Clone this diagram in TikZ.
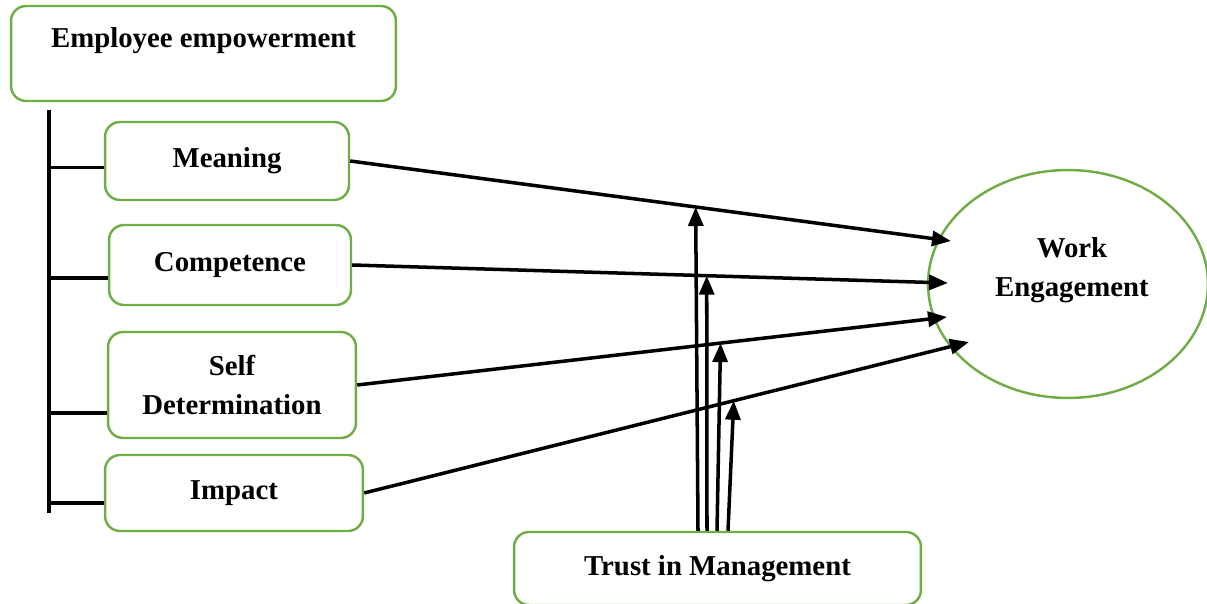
\documentclass[tikz,border=0pt]{standalone}
\usepackage{fontspec}
\setmainfont{Liberation Serif}
\usepackage{xcolor}
\usetikzlibrary{arrows.meta,calc,shapes.geometric}

\definecolor{boxgreen}{RGB}{112,173,71}

\begin{document}
\begin{tikzpicture}[x=0.02cm, y=-0.02cm,
    box/.style={draw=boxgreen, line width=1.4pt, rounded corners=0.3cm, inner sep=0pt, align=center, font=\fontsize{16.4}{22.7}\selectfont\bfseries},
    txt/.style={align=center, font=\fontsize{16.4}{22}\selectfont\bfseries},
    link/.style={line width=2pt, -{Triangle[length=0.38cm,width=0.3cm]}},
    bar/.style={line width=2pt}]
    \useasboundingbox (0,0) rectangle (1207,604);

    % Boxes
    \node[box, minimum width=7.7cm, minimum height=1.9cm] (emp) at (203.5,53.5) {};
    \node[txt] (emplabel) at (203.5,41) {Employee empowerment};
    \node[box, minimum width=4.88cm, minimum height=1.56cm] (meaning) at (227,161) {Meaning};
    \node[box, minimum width=4.84cm, minimum height=1.6cm] (competence) at (230,265) {Competence};
    \node[box, minimum width=4.96cm, minimum height=2.12cm] (selfdet) at (232,385) {Self\\Determination};
    \node[box, minimum width=5.16cm, minimum height=1.52cm] (impact) at (234,493) {Impact};
    \node[box, minimum width=8.14cm, minimum height=1.46cm] (trust) at (717.5,568.5) {Trust in Management};

    % Outcome
    \node[ellipse, draw=boxgreen, line width=1.4pt, minimum width=5.6cm, minimum height=4.56cm, inner sep=0pt] (we) at (1068,284) {};
    \node[txt] (welabel) at (1072,270) {Work\\Engagement};

    % Bracket on the left
    \coordinate (bartop) at (49,110);
    \coordinate (barbot) at (49,513);
    \draw[bar] (bartop) -- (barbot);
    \foreach \n/\r in {meaning/0.58, competence/0.66, selfdet/0.76, impact/0.63} {
        \coordinate (tick) at ($(\n.north west)!\r!(\n.south west)$);
        \draw[bar] (bartop |- tick) -- (tick);
    }

    % Paths to work engagement
    \coordinate (t1) at (951,241);
    \coordinate (t2) at (948,283);
    \coordinate (t3) at (947,317);
    \coordinate (t4) at (969,342);
    \draw[link] (meaning.east) -- coordinate[pos=0.575] (m1) (t1);
    \draw[link] (competence.east) -- coordinate[pos=0.595] (m2) (t2);
    \draw[link] (selfdet.east) -- coordinate[pos=0.616] (m3) (t3);
    \draw[link] (impact.east) -- coordinate[pos=0.611] (m4) (t4);

    % Moderation arrows
    \draw[link] ([xshift=-0.39cm]trust.north) -- (m1);
    \draw[link] ([xshift=-0.21cm]trust.north) -- (m2);
    \draw[link] ([xshift=-0.01cm]trust.north) -- (m3);
    \draw[link] ([xshift=0.21cm]trust.north) -- (m4);
\end{tikzpicture}
\end{document}
